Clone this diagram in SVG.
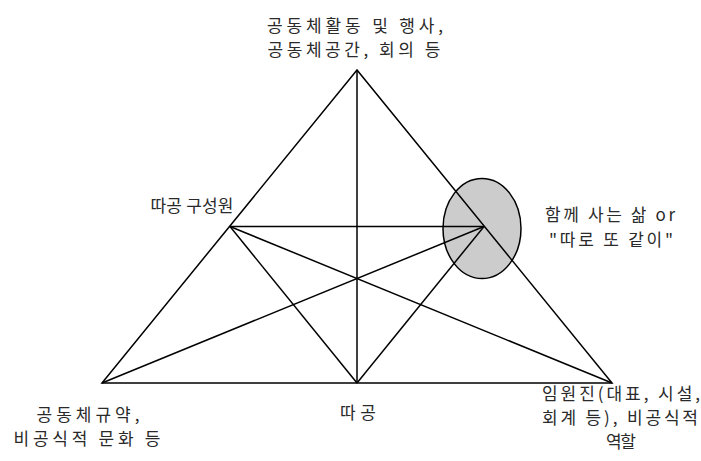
<svg xmlns="http://www.w3.org/2000/svg" width="701" height="461" viewBox="0 0 701 461">
<style>
text{font-family:"Noto Sans CJK KR","Noto Sans",sans-serif;font-size:17px;fill:#2a2a2a;text-anchor:middle}
.ln{stroke:#000;stroke-width:1.5;fill:none}
</style>
<rect width="701" height="461" fill="#fff"/>
<g id="ellipse-node"><ellipse cx="482" cy="228.5" rx="39" ry="50" fill="#cccccc" stroke="#000" stroke-width="1.5"/></g>
<g id="connectors">
<polygon class="ln" points="357,70 102,383 612,383"/>
<line class="ln" x1="357" y1="70" x2="357" y2="383"/>
<line class="ln" x1="230" y1="226.5" x2="484" y2="226.5"/>
<line class="ln" x1="230" y1="226.5" x2="357" y2="383"/>
<line class="ln" x1="230" y1="226.5" x2="612" y2="383"/>
<line class="ln" x1="484" y1="226.5" x2="102" y2="383"/>
<line class="ln" x1="484" y1="226.5" x2="357" y2="383"/>
</g>
<g id="top-label"><text x="355" y="32" textLength="176">공동체활동 및 행사,</text><text x="354" y="56" textLength="173">공동체공간, 회의 등</text></g>
<g id="left-label"><text x="192" y="212" textLength="83">따공 구성원</text></g>
<g id="right-label"><text x="610" y="221" textLength="130">함께 사는 삶 or</text><text x="611" y="246" textLength="124">"따로 또 같이"</text></g>
<g id="bl-label"><text x="88" y="421" textLength="103">공동체규약,</text><text x="87" y="445" textLength="147">비공식적 문화 등</text></g>
<g id="bm-label"><text x="358" y="419" textLength="36">따공</text></g>
<g id="br-label"><text x="621" y="400" textLength="158">임원진(대표, 시설,</text><text x="620" y="424" textLength="156">회계 등), 비공식적</text><text x="621" y="448" textLength="30">역할</text></g>
</svg>
